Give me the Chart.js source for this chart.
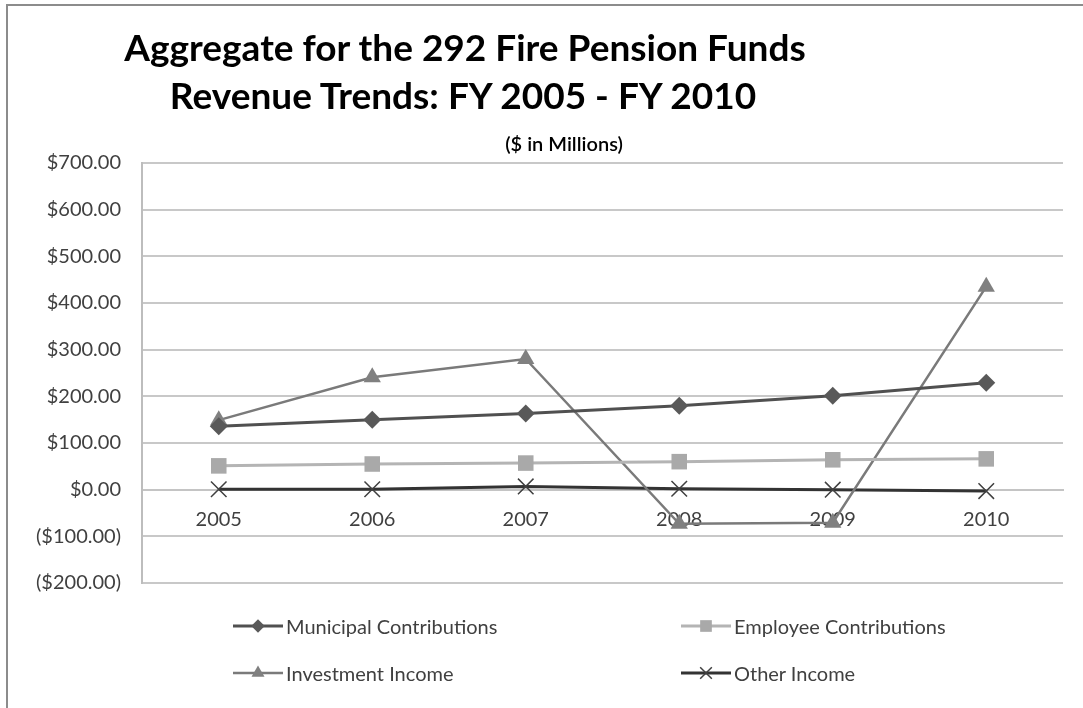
<!DOCTYPE html>
<html>
<head>
<meta charset="utf-8">
<script src="https://cdn.jsdelivr.net/npm/chart.js"></script>
<style>
  html, body { margin: 0; padding: 0; background: #fff; }
  #wrap { position: relative; width: 1083px; height: 708px; overflow: hidden; font-family: Lato, "Noto Sans", sans-serif; }
  #frame { position: absolute; left: 6px; top: 4px; right: -4px; bottom: -4px; border-left: 2px solid #8c8c8c; border-top: 2px solid #8c8c8c; }
  #chart { position: absolute; left: 0; top: 0; }
  .title { position: absolute; font-weight: bold; color: #000; white-space: nowrap; transform: translateX(-50%); }
  #t1 { left: 465px; top: 24px; font-size: 37px; }
  #t2 { left: 463px; top: 72px; font-size: 37px; }
  #sub { left: 564px; top: 131px; font-size: 20px; font-weight: 600; }
  .leg { position: absolute; display: flex; align-items: center; font-size: 20px; color: #404040; white-space: nowrap; }
  .leg canvas { margin-right: 1px; }
</style>
</head>
<body>
<div id="wrap">
  <div id="frame"></div>
  <canvas id="chart" width="1083" height="708"></canvas>
  <div class="title" id="t1">Aggregate for the 292 Fire Pension Funds</div>
  <div class="title" id="t2">Revenue Trends: FY 2005 - FY 2010</div>
  <div class="title" id="sub">($ in Millions)</div>
  <div id="legend"></div>
</div>
<script>
// fiscal years and revenue series, $ in millions
const years = ['2005', '2006', '2007', '2008', '2009', '2010'];
const municipal = [136, 150, 163, 180, 201, 229];
const employee = [51, 55, 57, 60, 64, 66];
const investment = [149, 241, 280, -73, -71, 435];
const other = [1, 1, 7, 2, 0, -3];

const seriesNames = ['Municipal Contributions', 'Employee Contributions', 'Investment Income', 'Other Income'];

function money(v) {
    const s = '$' + Math.abs(v).toFixed(2);
    return v < 0 ? '(' + s + ')' : s;
}

const ctx = document.getElementById('chart').getContext('2d');
const myChart = new Chart(ctx, {
    type: 'line',
    data: {
        labels: years,
        datasets: [
            { label: seriesNames[0], data: municipal, borderColor: '#505050', backgroundColor: '#595959',
              borderWidth: 3, pointStyle: 'rectRot', pointRadius: 9, pointBorderWidth: 0 },
            { label: seriesNames[1], data: employee, borderColor: '#b4b4b4', backgroundColor: '#a9a9a9',
              borderWidth: 3, pointStyle: 'rect', pointRadius: 11, pointBorderWidth: 0 },
            { label: seriesNames[2], data: investment, borderColor: '#7a7a7a', backgroundColor: '#808080',
              borderWidth: 2.5, pointStyle: 'triangle', pointRadius: 10, pointBorderWidth: 0 },
            { label: seriesNames[3], data: other, borderColor: '#333333', backgroundColor: '#404040',
              borderWidth: 3, pointStyle: 'crossRot', pointRadius: 11, pointBorderWidth: 1.5, pointBorderColor: '#404040' }
        ]
    },
    options: {
        responsive: false,
        animation: false,
        events: [],
        layout: { padding: { top: 163, bottom: 125, right: 20, left: 0 } },
        plugins: { legend: { display: false }, title: { display: false }, tooltip: { enabled: false } },
        elements: { line: { tension: 0 } },
        scales: {
            x: {
                position: { y: 0 },
                offset: true,
                grid: { display: false, drawTicks: false },
                border: { display: true, color: '#c4c4c4', width: 2 },
                ticks: { padding: 18, color: '#404040', font: { family: 'Lato', size: 20 } }
            },
            y: {
                min: -200,
                max: 700,
                afterFit(axis) { axis.width = 142; },
                grid: { color: '#c8c8c8', lineWidth: 2, drawTicks: false },
                border: { display: true, color: '#bdbdbd', width: 2 },
                ticks: { stepSize: 100, padding: 21, color: '#404040', font: { family: 'Lato', size: 20 },
                         callback: (v) => money(v) }
            }
        }
    }
});

// legend in two columns, built from the chart's datasets
const legendPos = [[233, 626], [681, 626], [233, 673], [681, 673]];
const legendBox = document.getElementById('legend');
myChart.data.datasets.forEach((ds, i) => {
    const item = document.createElement('div');
    item.className = 'leg';
    const c = document.createElement('canvas');
    c.width = 52; c.height = 26;
    const g = c.getContext('2d');
    g.strokeStyle = ds.borderColor;
    g.lineWidth = ds.borderWidth;
    g.beginPath(); g.moveTo(0, 13); g.lineTo(50, 13); g.stroke();
    if (Chart.helpers && Chart.helpers.drawPoint) {
        g.fillStyle = ds.backgroundColor;
        g.strokeStyle = ds.pointBorderColor || ds.backgroundColor;
        g.lineWidth = ds.pointBorderWidth || 0;
        Chart.helpers.drawPoint(g, { pointStyle: ds.pointStyle, radius: ds.pointRadius * 0.75, borderWidth: ds.pointBorderWidth || 0, rotation: 0 }, 25, 13);
    }
    item.appendChild(c);
    const t = document.createElement('span');
    t.textContent = ds.label;
    item.appendChild(t);
    item.style.left = legendPos[i][0] + 'px';
    item.style.top = (legendPos[i][1] - 13) + 'px';
    legendBox.appendChild(item);
});
</script>
</body>
</html>
